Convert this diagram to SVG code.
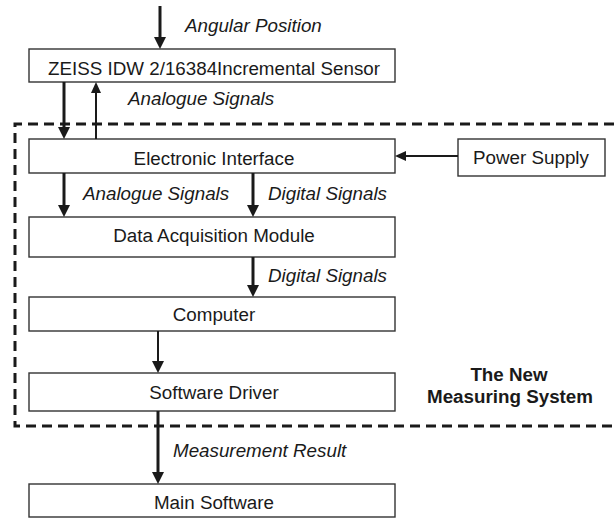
<svg xmlns="http://www.w3.org/2000/svg" width="614" height="519" viewBox="0 0 614 519">
<style>
.box{fill:#fff;stroke:#333;stroke-width:1.4}
.t{font-family:"Liberation Sans",Arial,sans-serif;font-size:18.8px;fill:#1a1a1a}
.c{text-anchor:middle}
.i{font-style:italic}
.b{font-weight:bold}
.w3{stroke:#1a1a1a;stroke-width:3;fill:none}
.w2{stroke:#1a1a1a;stroke-width:2;fill:none}
.hd{fill:#1a1a1a}
</style>
<rect width="614" height="519" fill="#fff"/>
<g id="system-boundary">
<path d="M614,124 H15 V426 H614" fill="none" stroke="#1a1a1a" stroke-width="3" stroke-dasharray="10,6"/>
<text class="t c b" x="509" y="381">The New</text>
<text class="t c b" x="510" y="403">Measuring System</text>
</g>
<g id="sensor"><rect class="box" x="29" y="49" width="366" height="33"/><text class="t c" x="214" y="75">ZEISS IDW 2/16384Incremental Sensor</text></g>
<g id="electronic-interface"><rect class="box" x="29" y="139" width="366" height="34"/><text class="t c" x="214" y="165">Electronic Interface</text></g>
<g id="power-supply"><rect class="box" x="458" y="139" width="147" height="37"/><text class="t c" x="531" y="164">Power Supply</text></g>
<g id="daq"><rect class="box" x="29" y="217" width="366" height="40"/><text class="t c" x="214" y="242">Data Acquisition Module</text></g>
<g id="computer"><rect class="box" x="29" y="297" width="366" height="34"/><text class="t c" x="214" y="321">Computer</text></g>
<g id="software-driver"><rect class="box" x="29" y="373" width="366" height="38"/><text class="t c" x="214" y="399">Software Driver</text></g>
<g id="main-software"><rect class="box" x="29" y="484" width="366" height="33"/><text class="t c" x="214" y="509">Main Software</text></g>
<g id="connectors">
<line class="w3" x1="160" y1="6" x2="160" y2="38"/><polygon class="hd" points="154,37 166,37 160,49"/>
<line class="w3" x1="64" y1="82" x2="64" y2="128"/><polygon class="hd" points="58,127 70,127 64,139"/>
<line class="w2" x1="96" y1="139" x2="96" y2="92"/><polygon class="hd" points="91,93 101,93 96,82"/>
<line class="w2" x1="458" y1="156" x2="405" y2="156"/><polygon class="hd" points="406,151 406,161 395,156"/>
<line class="w3" x1="64" y1="173" x2="64" y2="206"/><polygon class="hd" points="58,205 70,205 64,217"/>
<line class="w3" x1="253" y1="173" x2="253" y2="206"/><polygon class="hd" points="247,205 259,205 253,217"/>
<line class="w3" x1="253" y1="257" x2="253" y2="286"/><polygon class="hd" points="247,285 259,285 253,297"/>
<line class="w2" x1="158" y1="331" x2="158" y2="362"/><polygon class="hd" points="152,361 164,361 158,373"/>
<line class="w3" x1="158" y1="411" x2="158" y2="473"/><polygon class="hd" points="152,472 164,472 158,484"/>
<text class="t i" x="185" y="32">Angular Position</text>
<text class="t i" x="128" y="105">Analogue Signals</text>
<text class="t i" x="83" y="200">Analogue Signals</text>
<text class="t i" x="268" y="200">Digital Signals</text>
<text class="t i" x="268" y="282">Digital Signals</text>
<text class="t i" x="173" y="457">Measurement Result</text>
</g>
</svg>
